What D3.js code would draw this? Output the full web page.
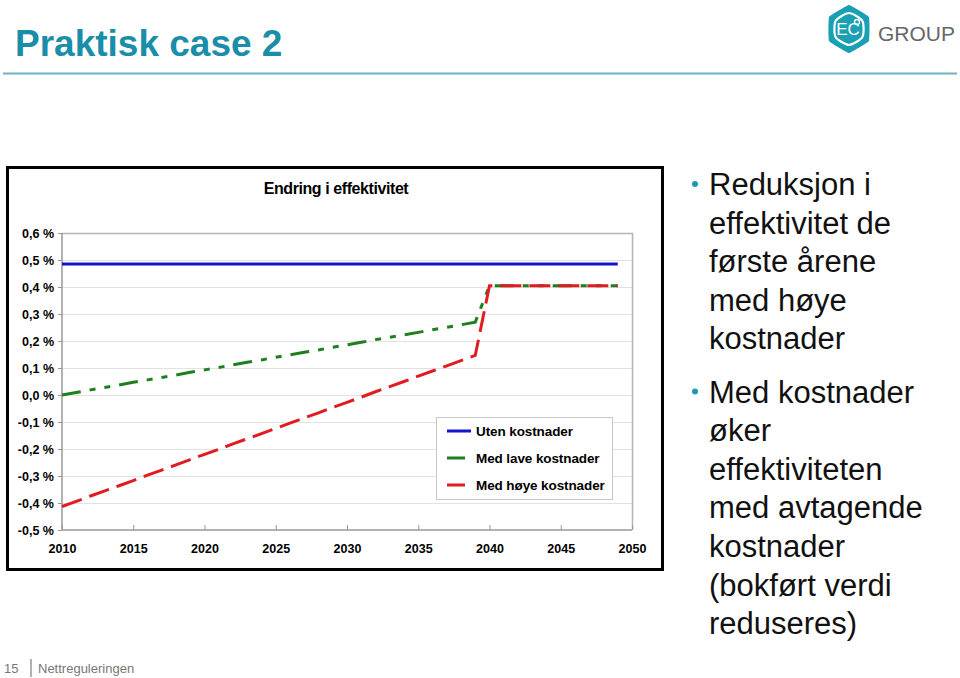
<!DOCTYPE html>
<html>
<head>
<meta charset="utf-8">
<script src="https://cdn.jsdelivr.net/npm/d3@7"></script>
<style>
  html, body { margin: 0; padding: 0; background: #fff; }
  svg { display: block; }
  text { font-family: Arial, "Liberation Sans", sans-serif; }
</style>
</head>
<body>
<svg id="chart" width="960" height="678"></svg>
<script>
// ---------- data ----------
const years = [2010,2011,2012,2013,2014,2015,2016,2017,2018,2019,
               2020,2021,2022,2023,2024,2025,2026,2027,2028,2029,
               2030,2031,2032,2033,2034,2035,2036,2037,2038,2039,
               2040,2041,2042,2043,2044,2045,2046,2047,2048,2049];
const utenKostnader = [0.485,0.485,0.485,0.485,0.485,0.485,0.485,0.485,0.485,0.485,
                       0.485,0.485,0.485,0.485,0.485,0.485,0.485,0.485,0.485,0.485,
                       0.485,0.485,0.485,0.485,0.485,0.485,0.485,0.485,0.485,0.485,
                       0.485,0.485,0.485,0.485,0.485,0.485,0.485,0.485,0.485,0.485];
const medLaveKostnader = [0.000,0.009,0.019,0.028,0.037,0.047,0.056,0.065,0.074,0.084,
                          0.093,0.102,0.112,0.121,0.130,0.140,0.149,0.158,0.167,0.177,
                          0.186,0.195,0.205,0.214,0.223,0.232,0.242,0.251,0.260,0.270,
                          0.405,0.405,0.405,0.405,0.405,0.405,0.405,0.405,0.405,0.405];
const medHoyeKostnader = [-0.413,-0.394,-0.374,-0.355,-0.336,-0.317,-0.297,-0.278,-0.259,-0.239,
                         -0.220,-0.201,-0.181,-0.162,-0.143,-0.124,-0.104,-0.085,-0.066,-0.046,
                         -0.027,-0.008,0.012,0.031,0.050,0.070,0.089,0.108,0.127,0.147,
                         0.405,0.405,0.405,0.405,0.405,0.405,0.405,0.405,0.405,0.405];
const seriesNames = ["Uten kostnader", "Med lave kostnader", "Med høye kostnader"];
const xTicks = [2010,2015,2020,2025,2030,2035,2040,2045,2050];
const yTicks = [-0.5,-0.4,-0.3,-0.2,-0.1,0.0,0.1,0.2,0.3,0.4,0.5,0.6];
const chartTitle = "Endring i effektivitet";
const pageTitle = "Praktisk case 2";
const bullets = [
  ["Reduksjon i", "effektivitet de", "første årene", "med høye", "kostnader"],
  ["Med kostnader", "øker", "effektiviteten", "med avtagende", "kostnader", "(bokført verdi", "reduseres)"]
];

// ---------- drawing ----------
const svg = d3.select("#chart");
const teal = "#1a8ea8";

// page title
svg.append("text").attr("x", 15).attr("y", 56)
  .attr("font-size", 37).attr("font-weight", "bold").attr("fill", teal)
  .text(pageTitle);
svg.append("line").attr("x1", 3).attr("x2", 957).attr("y1", 73.5).attr("y2", 73.5)
  .attr("stroke", "#6bb3c3").attr("stroke-width", 2);

// logo
const logo = svg.append("g").attr("transform", "translate(849,29)");
const hexPts = d3.range(6).map(i => {
  const a = Math.PI / 3 * i - Math.PI / 2;
  return [23 * Math.cos(a), 24 * Math.sin(a)];
});
logo.append("path").attr("d", d3.line().curve(d3.curveCardinalClosed.tension(0.75))(hexPts))
  .attr("fill", "#1b9fb2");
const innerPts = d3.range(6).map(i => {
  const a = Math.PI / 3 * i - Math.PI / 2;
  return [15.5 * Math.cos(a), 16 * Math.sin(a)];
});
logo.append("path").attr("d", d3.line().curve(d3.curveCardinalClosed.tension(0.3))(innerPts))
  .attr("fill", "none").attr("stroke", "#fff").attr("stroke-width", 2.2);
logo.append("text").attr("x", -1).attr("y", 6).attr("text-anchor", "middle")
  .attr("font-size", 17).attr("fill", "#fff").attr("font-family", "'Open Sans', sans-serif")
  .text("EC");
logo.append("circle").attr("cx", 8).attr("cy", -7).attr("r", 2.5)
  .attr("fill", "none").attr("stroke", "#fff").attr("stroke-width", 1.3);
svg.append("text").attr("x", 878).attr("y", 41)
  .attr("font-size", 21).attr("fill", "#666").attr("font-family", "'Open Sans', sans-serif")
  .attr("font-weight", 300).attr("textLength", 77).attr("lengthAdjust", "spacingAndGlyphs")
  .text("GROUP");

// chart frame
svg.append("rect").attr("x", 7.5).attr("y", 167.5).attr("width", 655).attr("height", 402)
  .attr("fill", "#fff").attr("stroke", "#000").attr("stroke-width", 3);

const x = d3.scaleLinear().domain([2010, 2050]).range([62, 632]);
const y = d3.scaleLinear().domain([-0.5, 0.6]).range([530, 233]);

// gridlines
svg.append("g").selectAll("line").data(yTicks.filter(d => d > -0.5)).join("line")
  .attr("x1", x(2010)).attr("x2", x(2050))
  .attr("y1", d => Math.round(y(d)) + 0.5).attr("y2", d => Math.round(y(d)) + 0.5)
  .attr("stroke", "#e2e2e2").attr("stroke-width", 1);
// plot border (top/right)
svg.append("path")
  .attr("d", `M${x(2010)},${y(0.6)+0.5}H${x(2050)+0.5}V${y(-0.5)}`)
  .attr("fill", "none").attr("stroke", "#b4b4b4").attr("stroke-width", 1.5);

// axes
const fmt = d => d.toFixed(1).replace(".", ",").replace("-0,0", "0,0") + " %";
const yAxis = svg.append("g").attr("transform", `translate(${x(2010)},0)`)
  .call(d3.axisLeft(y).tickValues(yTicks).tickFormat(fmt).tickSize(4).tickPadding(4));
const xAxis = svg.append("g").attr("transform", `translate(0,${y(-0.5)})`)
  .call(d3.axisBottom(x).tickValues(xTicks).tickFormat(d3.format("d")).tickSize(-5).tickPadding(14));
[yAxis, xAxis].forEach(g => {
  g.select(".domain").attr("stroke", "#999").attr("stroke-width", 1.5);
  g.selectAll(".tick line").attr("stroke", "#999");
  g.selectAll(".tick text").attr("font-size", 12.5).attr("font-weight", "bold")
    .attr("fill", "#000").attr("font-family", "Arial, 'Liberation Sans', sans-serif");
});
xAxis.select(".domain").attr("d", `M${x(2010)},0H${x(2050)}`);
yAxis.select(".domain").attr("d", `M0,${y(-0.5)}V${y(0.6)}`);

// chart title
svg.append("text").attr("x", 336).attr("y", 194).attr("text-anchor", "middle")
  .attr("font-size", 16).attr("font-weight", "bold").attr("letter-spacing", -0.42)
  .text(chartTitle);

// lines
const line = d3.line().x((d, i) => x(years[i])).y(d => y(d));
const series = [
  { name: seriesNames[0], values: utenKostnader, color: "#1414c8", dash: null },
  { name: seriesNames[1], values: medLaveKostnader, color: "#1e7f1e", dash: "19,9,6,9,6,9" },
  { name: seriesNames[2], values: medHoyeKostnader, color: "#e01b22", dash: "21,8" }
];
series.forEach(s => {
  svg.append("path").attr("d", line(s.values))
    .attr("fill", "none").attr("stroke", s.color).attr("stroke-width", 3)
    .attr("stroke-dasharray", s.dash);
});

// legend
const lg = svg.append("g");
lg.append("rect").attr("x", 436.5).attr("y", 417.5).attr("width", 176).attr("height", 82)
  .attr("fill", "#fff").attr("stroke", "#c8c8c8");
series.forEach((s, i) => {
  const yy = 431 + i * 27;
  lg.append("line").attr("x1", 447).attr("x2", i === 0 ? 471 : 465).attr("y1", yy).attr("y2", yy)
    .attr("stroke", s.color).attr("stroke-width", 3);
  lg.append("text").attr("x", 476).attr("y", yy + 5)
    .attr("font-size", 13.5).attr("font-weight", "bold").attr("letter-spacing", -0.1)
    .text(s.name);
});

// bullets
let by = 195;
bullets.forEach((b, bi) => {
  if (bi > 0) by += 14.5;
  svg.append("circle").attr("cx", 695).attr("cy", by - 11).attr("r", 3).attr("fill", "#1a9ab5");
  b.forEach((t) => {
    svg.append("text").attr("x", 709).attr("y", by).attr("font-size", 31).attr("fill", "#111")
      .text(t);
    by += 38.6;
  });
});

// footer
svg.append("text").attr("x", 4).attr("y", 673).attr("font-size", 13).attr("fill", "#777").text("15");
svg.append("line").attr("x1", 31).attr("x2", 31).attr("y1", 659).attr("y2", 677)
  .attr("stroke", "#999").attr("stroke-width", 1.5);
svg.append("text").attr("x", 38).attr("y", 673).attr("font-size", 13).attr("fill", "#777").text("Nettreguleringen");
</script>
</body>
</html>
